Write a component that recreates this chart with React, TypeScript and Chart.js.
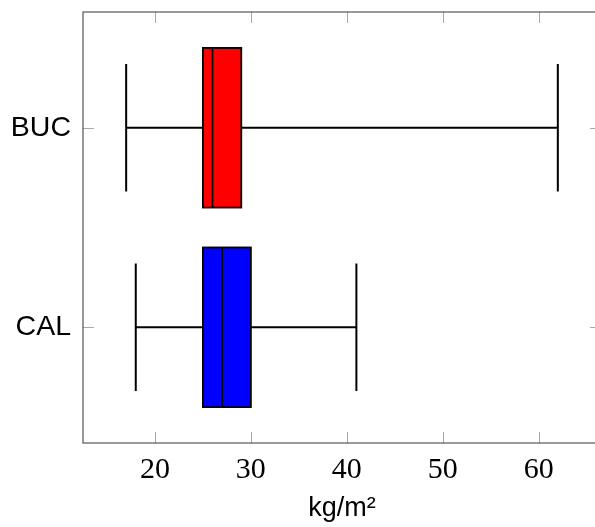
import React, { useEffect, useRef } from "react";
import { Chart, registerables } from "chart.js";

Chart.register(...registerables);

const categories = ["BUC", "CAL"];
const positions = [2, 1];
const lowerWhisker = [17, 18];
const q1 = [25, 25];
const median = [26, 27];
const q3 = [29, 30];
const upperWhisker = [62, 41];
const boxColors = ["#ff0000", "#0000ff"];
const xTicks = [20, 30, 40, 50, 60];
const xTitle = "kg/m²";

const boxHalf = 0.4;
const whiskerHalf = 0.32;

const boxPlugin = {
  id: "boxPlugin",
  afterDatasetsDraw(chart: any) {
    const ctx = chart.ctx;
    const xs = chart.scales.x;
    const ys = chart.scales.y;
    const area = chart.chartArea;
    ctx.save();
    // tick marks inside
    ctx.strokeStyle = "#a8a8a8";
    ctx.lineWidth = 1;
    const tl = 11;
    xTicks.forEach((v) => {
      const px = Math.round(xs.getPixelForValue(v)) + 0.5;
      ctx.beginPath();
      ctx.moveTo(px, area.bottom);
      ctx.lineTo(px, area.bottom - tl);
      ctx.moveTo(px, area.top);
      ctx.lineTo(px, area.top + tl);
      ctx.stroke();
    });
    positions.forEach((p) => {
      const py = Math.round(ys.getPixelForValue(p)) + 0.5;
      ctx.beginPath();
      ctx.moveTo(area.left, py);
      ctx.lineTo(area.left + tl, py);
      ctx.moveTo(area.right, py);
      ctx.lineTo(area.right - tl, py);
      ctx.stroke();
    });
    // frame
    ctx.strokeStyle = "#555555";
    ctx.lineWidth = 1.2;
    ctx.strokeRect(area.left, area.top, area.right - area.left, area.bottom - area.top);

    // boxes
    categories.forEach((_, i) => {
      const p = positions[i];
      const yc = ys.getPixelForValue(p);
      const yTop = ys.getPixelForValue(p + boxHalf);
      const yBot = ys.getPixelForValue(p - boxHalf);
      const wTop = ys.getPixelForValue(p + whiskerHalf);
      const wBot = ys.getPixelForValue(p - whiskerHalf);
      const xl = xs.getPixelForValue(lowerWhisker[i]);
      const xq1 = xs.getPixelForValue(q1[i]);
      const xm = xs.getPixelForValue(median[i]);
      const xq3 = xs.getPixelForValue(q3[i]);
      const xu = xs.getPixelForValue(upperWhisker[i]);
      ctx.strokeStyle = "#000000";
      ctx.lineWidth = 2;
      ctx.beginPath();
      ctx.moveTo(xl, yc);
      ctx.lineTo(xq1, yc);
      ctx.moveTo(xq3, yc);
      ctx.lineTo(xu, yc);
      ctx.moveTo(xl, wTop);
      ctx.lineTo(xl, wBot);
      ctx.moveTo(xu, wTop);
      ctx.lineTo(xu, wBot);
      ctx.stroke();
      ctx.fillStyle = boxColors[i];
      ctx.fillRect(xq1, yTop, xq3 - xq1, yBot - yTop);
      ctx.lineWidth = 1.8;
      ctx.strokeRect(xq1, yTop, xq3 - xq1, yBot - yTop);
      ctx.beginPath();
      ctx.moveTo(xm, yTop);
      ctx.lineTo(xm, yBot);
      ctx.stroke();
    });
    ctx.restore();
  },
};

export default function App() {
  const ref = useRef<HTMLCanvasElement | null>(null);
  useEffect(() => {
    if (!ref.current) return;
    const chart = new Chart(ref.current, {
      type: "scatter",
      data: {
        datasets: [
          {
            data: categories.map((_, i) => ({ x: median[i], y: positions[i] })),
            pointRadius: 0,
            showLine: false,
          },
        ],
      },
      options: {
        responsive: false,
        animation: false,
        events: [],
        layout: { padding: { top: 12, right: 9, left: 0, bottom: 0 } },
        plugins: { legend: { display: false }, tooltip: { enabled: false } },
        scales: {
          x: {
            type: "linear",
            min: 12.5,
            max: 66.5,
            grid: { display: false, drawTicks: false },
            border: { display: false },
            afterBuildTicks: (s: any) => {
              s.ticks = xTicks.map((v) => ({ value: v }));
            },
            afterFit: (s: any) => {
              s.height = 84;
              s.paddingLeft = 0;
              s.paddingRight = 0;
            },
            ticks: {
              padding: 9,
              maxRotation: 0,
              color: "#000",
              font: { family: "'Liberation Serif', serif", size: 30 },
              callback: (v: any) => String(v),
            },
            title: {
              display: true,
              text: xTitle,
              color: "#000",
              padding: { top: 0, bottom: 2 },
              font: { family: "'Liberation Sans', Arial, sans-serif", size: 27 },
            },
          },
          y: {
            type: "linear",
            min: 0.42,
            max: 2.58,
            grid: { display: false, drawTicks: false },
            border: { display: false },
            afterBuildTicks: (s: any) => {
              s.ticks = positions.map((v) => ({ value: v }));
            },
            afterFit: (s: any) => {
              s.width = 83;
              s.paddingTop = 0;
              s.paddingBottom = 0;
            },
            ticks: {
              padding: 12,
              color: "#000",
              font: { family: "'Liberation Sans', Arial, sans-serif", size: 28.5 },
              callback: (v: any) => {
                const idx = positions.indexOf(Number(v));
                return idx >= 0 ? categories[idx] : "";
              },
            },
          },
        },
      },
      plugins: [boxPlugin],
    });
    return () => chart.destroy();
  }, []);
  return (
    <div
      style={{
        position: "fixed",
        left: 0,
        top: 0,
        width: 595,
        height: 527,
        overflow: "hidden",
        background: "#fff",
      }}
    >
      <canvas ref={ref} width={610} height={527} style={{ width: 610, height: 527, display: "block" }} />
    </div>
  );
}
